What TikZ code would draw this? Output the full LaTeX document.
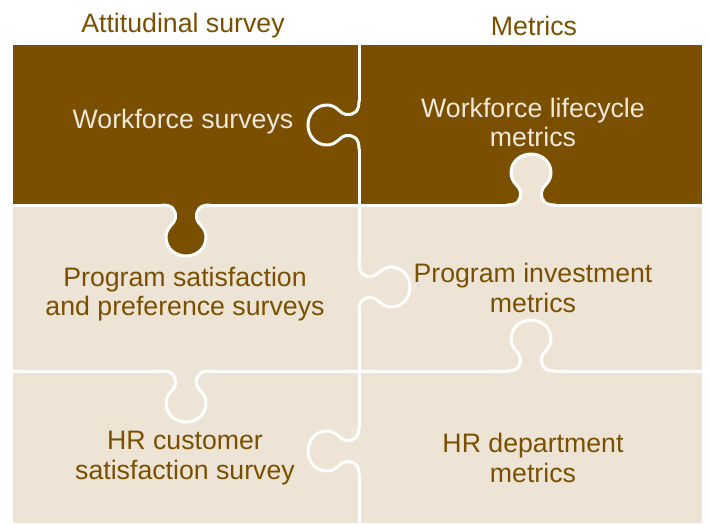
\documentclass[tikz,border=0pt]{standalone}
\usepackage{fontspec}
\setmainfont{Liberation Sans}
\definecolor{pbrown}{RGB}{122,80,0}
\definecolor{pbeige}{RGB}{238,228,214}
\definecolor{pcream}{RGB}{240,232,218}
\tikzset{
  knob/.pic={\path[pic actions] (-24,0) .. controls (-14,0) and (-10,4) .. (-10.5,13)
     .. controls (-11,19) and (-20,22) .. (-20,32)
     .. controls (-20,44) and (-10,51) .. (0,51)
     .. controls (10,51) and (20,44) .. (20,32)
     .. controls (20,22) and (11,19) .. (10.5,13)
     .. controls (10,4) and (14,0) .. (24,0);},
  wl/.style={draw=white, line width=3pt, line cap=round, line join=round},
  lbl/.style={font=\fontsize{26.7}{29.5}\selectfont, align=center, inner sep=0pt},
  dk/.style={lbl, text=pcream},
  lt/.style={lbl, text=pbrown}
}
\begin{document}
\begin{tikzpicture}[x=1pt,y=-1pt]
\useasboundingbox (0,0) rectangle (709,523);
% panels
\fill[pbeige] (13,45) rectangle (702,523);
\fill[pbrown] (13,45) rectangle (702,205);
\pic[fill=pbrown] at (186,205) {knob};
\pic[fill=pbeige, rotate=180] at (531,205) {knob};
% vertical seam
\draw[wl] (359,45) -- (359,101);
\pic[wl, rotate=-90] at (359,125) {knob};
\draw[wl] (359,149) -- (359,263);
\pic[wl, rotate=90] at (359,287) {knob};
\draw[wl] (359,311) -- (359,427);
\pic[wl, rotate=-90] at (359,451) {knob};
\draw[wl] (359,475) -- (359,523);
% horizontal seam 1
\draw[wl] (13,205) -- (162,205);
\pic[wl] at (186,205) {knob};
\draw[wl] (210,205) -- (507,205);
\pic[wl, rotate=180] at (531,205) {knob};
\draw[wl] (555,205) -- (702,205);
% horizontal seam 2
\draw[wl] (13,371) -- (162,371);
\pic[wl] at (186,371) {knob};
\draw[wl] (210,371) -- (507,371);
\pic[wl, rotate=180] at (531,371) {knob};
\draw[wl] (555,371) -- (702,371);
% headers
\node[lt] (h1) at (183,26) {Attitudinal survey};
\node[lt] (h2) at (534,26) {Metrics};
% texts
\node[dk] (t1) at (183,122) {Workforce surveys};
\node[dk] (t2) at (533,122.5) {Workforce lifecycle\\metrics};
\node[lt] (t3) at (185,294) {Program satisfaction\\and preference surveys};
\node[lt] (t4) at (533,288) {Program investment\\metrics};
\node[lt] (t5) at (185,458) {HR customer\\satisfaction survey};
\node[lt] (t6) at (533,458) {HR department\\metrics};
\end{tikzpicture}
\end{document}
